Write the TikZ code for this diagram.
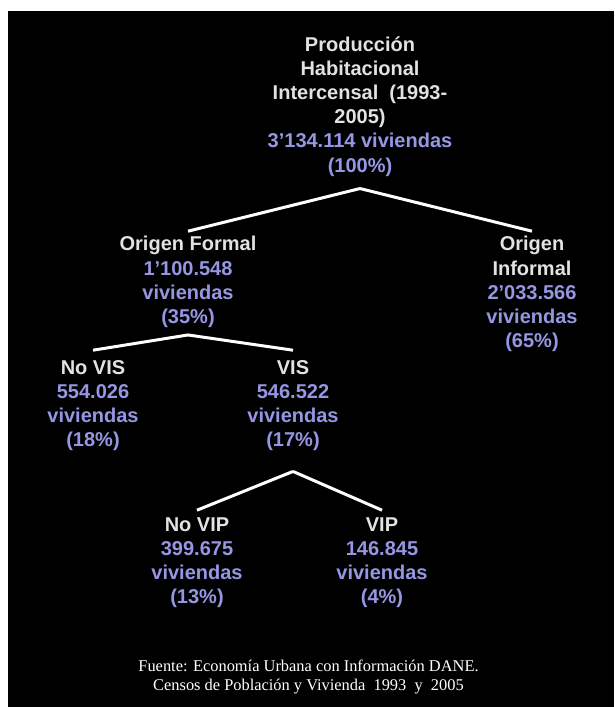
\documentclass[tikz,border=0pt]{standalone}
\usepackage{fontspec}
\setmainfont{Liberation Sans}
\newfontfamily\sourcefont{Liberation Serif}
\definecolor{titlegray}{RGB}{226,226,226}
\definecolor{countblue}{RGB}{150,150,228}
\newcommand{\cnt}[1]{\textcolor{countblue}{#1}}

\begin{document}
\begin{tikzpicture}
  [x=1pt,y=-1pt,
   every node/.style={align=center,anchor=north,inner sep=0pt,text=titlegray,
     font=\fontsize{20}{24.2}\selectfont\bfseries,execute at begin node=\strut},
   branch/.style={draw=white,line width=3pt}]
  \fill[white] (0,0) rectangle (614,707);
  \fill[black] (8,11) rectangle (614,707);

  \node (prod) at (360,36.2) {Producción\\Habitacional\\Intercensal~~(1993-\\2005)\\\cnt{3’134.114 viviendas}\\\cnt{(100\%)}};
  \node (formal) at (188,236.2) {Origen Formal\\\cnt{1’100.548}\\\cnt{viviendas}\\\cnt{(35\%)}};
  \node (informal) at (532,236.2) {Origen\\Informal\\\cnt{2’033.566}\\\cnt{viviendas}\\\cnt{(65\%)}};
  \node (novis) at (93,360.2) {No VIS\\\cnt{554.026}\\\cnt{viviendas}\\\cnt{(18\%)}};
  \node (vis) at (293,360.2) {VIS\\\cnt{546.522}\\\cnt{viviendas}\\\cnt{(17\%)}};
  \node (novip) at (197,517.2) {No VIP\\\cnt{399.675}\\\cnt{viviendas}\\\cnt{(13\%)}};
  \node (vip) at (382,517.2) {VIP\\\cnt{146.845}\\\cnt{viviendas}\\\cnt{(4\%)}};

  \node[font=\sourcefont\fontsize{16.4}{18.5}\selectfont,text=white] (source) at (308.5,660)
    {Fuente: Economía Urbana con Información DANE.\\Censos de Población y Vivienda~~1993~~y~~2005};

  \coordinate (prodfork) at ([yshift=-9pt]prod.south);
  \coordinate (formalfork) at ([yshift=-4pt]formal.south);
  \coordinate (visfork) at ([yshift=-17pt]vis.south);

  \foreach \from/\to/\gap in {prodfork/formal/5,prodfork/informal/5,formalfork/novis/10,
    formalfork/vis/10,visfork/novip/7,visfork/vip/7}
  \draw[branch] (\from) -- ([yshift=\gap pt]\to.north);

\end{tikzpicture}
\end{document}
